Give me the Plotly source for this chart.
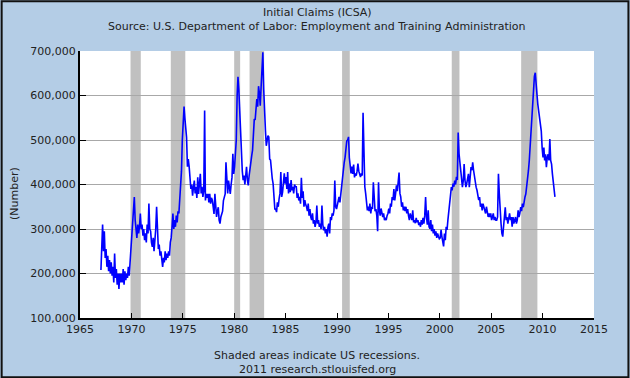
import pandas as pd
import plotly.graph_objects as go

# Initial claims, monthly readings of the weekly series (thousands), Jan 1967 onward
claims_1960s = [
    208, 300, 310, 250, 295, 235, 255, 215, 240, 205, 230, 200,
    225, 195, 215, 180, 245, 190, 210, 175, 200, 165, 200, 180,
    200, 180, 210, 175, 205, 185, 200, 190, 215, 195, 225, 240,
]
claims_1970s = [
    265, 290, 340, 372, 320, 300, 280, 310, 290, 305, 335, 300,
    310, 285, 300, 275, 290, 270, 310, 290, 357, 300, 295, 270,
    260, 280, 250, 275, 300, 350, 270, 255, 265, 240, 250, 235,
    215, 235, 225, 250, 230, 245, 235, 250, 240, 270, 280, 305,
    335, 300, 320, 305, 330, 315, 340, 335, 372, 390, 430, 500,
    565, 575, 550, 528, 506, 440, 457, 440, 410, 390, 400, 375,
    394, 409, 380, 394, 370, 416, 379, 400, 424, 380, 395, 372,
    385, 566, 364, 379, 370, 379, 360, 379, 357, 370, 365, 350,
    334, 379, 350, 327, 340, 349, 320, 312, 327, 335, 340, 364,
    370, 379, 450, 394, 380, 409, 395, 379, 400, 416, 469, 424,
]
claims_1980s = [
    440, 470, 500, 600, 642, 612, 567, 507, 462, 430, 410, 420,
    400, 428, 440, 410, 398, 420, 440, 457, 465, 477, 520, 547,
    545, 562, 592, 575, 621, 605, 577, 620, 651, 697, 614, 540,
    522, 487, 500, 510, 507, 457, 455, 425, 413, 402, 375, 345,
    345, 338, 360, 350, 368, 380, 428, 372, 383, 398, 425, 402,
    417, 390, 428, 380, 402, 383, 410, 387, 395, 380, 400, 395,
    395, 370, 380, 364, 372, 357, 415, 370, 385, 350, 365, 355,
    350, 340, 357, 330, 345, 327, 320, 335, 312, 320, 305, 315,
    353, 312, 320, 305, 312, 300, 353, 310, 297, 305, 290, 300,
    283, 305, 312, 290, 327, 320, 335, 330, 342, 409, 350, 345,
]
claims_1990s = [
    357, 365, 372, 360, 380, 395, 420, 431, 450, 461, 483, 498,
    500, 507, 460, 431, 425, 440, 424, 445, 416, 425, 420, 430,
    447, 430, 425, 417, 425, 420, 561, 420, 395, 380, 357, 342,
    350, 340, 357, 335, 350, 345, 405, 350, 340, 345, 330, 295,
    405, 342, 330, 346, 335, 327, 335, 320, 325, 320, 330, 335,
    346, 335, 357, 350, 372, 365, 390, 364, 380, 398, 385, 416,
    427, 380, 372, 350, 360, 342, 350, 340, 350, 335, 345, 330,
    320, 335, 327, 320, 342, 315, 320, 313, 325, 315, 320, 309,
    315, 305, 320, 310, 325, 312, 330, 372, 327, 310, 342, 305,
    301, 320, 295, 310, 290, 300, 285, 295, 280, 290, 283, 278,
]
claims_2000s = [
    280, 298, 283, 268, 261, 290, 275, 305, 298, 320, 342, 360,
    380, 394, 387, 402, 395, 409, 400, 417, 410, 517, 469, 450,
    432, 417, 394, 409, 446, 409, 394, 402, 417, 424, 394, 424,
    439, 432, 450, 432, 417, 409, 394, 387, 372, 365, 372, 350,
    357, 342, 357, 350, 342, 335, 350, 335, 327, 335, 327, 335,
    320, 327, 335, 320, 327, 320, 320, 327, 424, 380, 327, 313,
    290, 283, 305, 335, 349, 320, 327, 312, 327, 335, 320, 327,
    305, 327, 312, 320, 327, 312, 320, 342, 327, 335, 349, 340,
    357, 349, 364, 372, 379, 394, 410, 431, 454, 485, 528, 560,
    587, 620, 643, 651, 617, 602, 580, 565, 543, 528, 520, 483,
]
claims_2010s = [
    461, 483, 454, 468, 439, 461, 468, 454, 502, 454, 446, 424,
    409, 394, 372,
]

recession_starts = ["1969-12-01", "1973-11-01", "1980-01-01", "1981-07-01",
                    "1990-07-01", "2001-03-01", "2007-12-01"]
recession_ends = ["1970-11-30", "1975-03-31", "1980-07-31", "1982-11-30",
                  "1991-03-31", "2001-11-30", "2009-06-30"]

y_ticks = [100000, 200000, 300000, 400000, 500000, 600000, 700000]
x_ticks = ["1965", "1970", "1975", "1980", "1985", "1990",
           "1995", "2000", "2005", "2010", "2015"]

values_k = claims_1960s + claims_1970s + claims_1980s + claims_1990s + claims_2000s + claims_2010s
claims = [v * 1000 for v in values_k]
dates = pd.date_range("1967-01-01", periods=len(claims), freq="MS") + pd.Timedelta(days=14)

FONT = "DejaVu Sans"
TXT = "#222222"
BG = "#B4CDE6"

fig = go.Figure()
fig.add_trace(go.Scatter(x=dates, y=claims, mode="lines",
                         line=dict(color="#0000FF", width=1.6),
                         hoverinfo="skip", showlegend=False))

for s, e in zip(recession_starts, recession_ends):
    fig.add_shape(type="rect", xref="x", yref="paper", x0=s, x1=e, y0=0, y1=1,
                  fillcolor="#C0C0C0", line=dict(width=0), layer="below")

W, H = 630, 378
L, R, T, B = 79.5, 35.5, 50.7, 60.3
pw, ph = W - L - R, H - T - B

def px(xp):
    return (xp - L) / pw

def py(yp):
    return (H - B - yp) / ph

# outer border
fig.add_shape(type="rect", xref="paper", yref="paper",
              x0=px(1), x1=px(W - 1), y0=py(H - 1), y1=py(1),
              line=dict(color="#111111", width=2), fillcolor="rgba(0,0,0,0)")

def note(text, xp, yp, angle=0):
    fig.add_annotation(text=text, xref="paper", yref="paper", x=px(xp), y=py(yp),
                       showarrow=False, xanchor="center", yanchor="middle",
                       textangle=angle, font=dict(family=FONT, size=11, color=TXT))

note("Initial Claims (ICSA)", 317, 12)
note("Source: U.S. Department of Labor: Employment and Training Administration", 317, 26)
note("Shaded areas indicate US recessions.", 317, 355)
note("2011 research.stlouisfed.org", 317, 369)
note("(Number)", 14, 193, angle=-90)

fig.update_layout(
    width=W, height=H,
    margin=dict(l=L, r=R, t=T, b=B, pad=0),
    paper_bgcolor=BG, plot_bgcolor="white",
    font=dict(family=FONT, size=11, color=TXT),
    showlegend=False,
    xaxis=dict(type="date", range=["1965-01-01", "2015-01-01"],
               tickvals=[f"{t}-01-01" for t in x_ticks], ticktext=x_ticks,
               ticks="inside", ticklen=5, tickcolor="black", tickwidth=1,
               showline=True, linecolor="black", linewidth=2,
               showgrid=False, zeroline=False, tickfont=dict(size=11, color=TXT)),
    yaxis=dict(range=[100000, 700000], tickvals=y_ticks,
               ticktext=[f"{v:,}" for v in y_ticks],
               ticks="inside", ticklen=6, tickcolor="black", tickwidth=1,
               showline=True, linecolor="black", linewidth=2,
               showgrid=True, gridcolor="#A8A8A8", gridwidth=1,
               zeroline=False, tickfont=dict(size=11, color=TXT)),
)

fig.write_html("out.html", config={"displayModeBar": False, "staticPlot": True},
               post_script="document.body.style.margin='0px';document.body.style.overflow='hidden';")
